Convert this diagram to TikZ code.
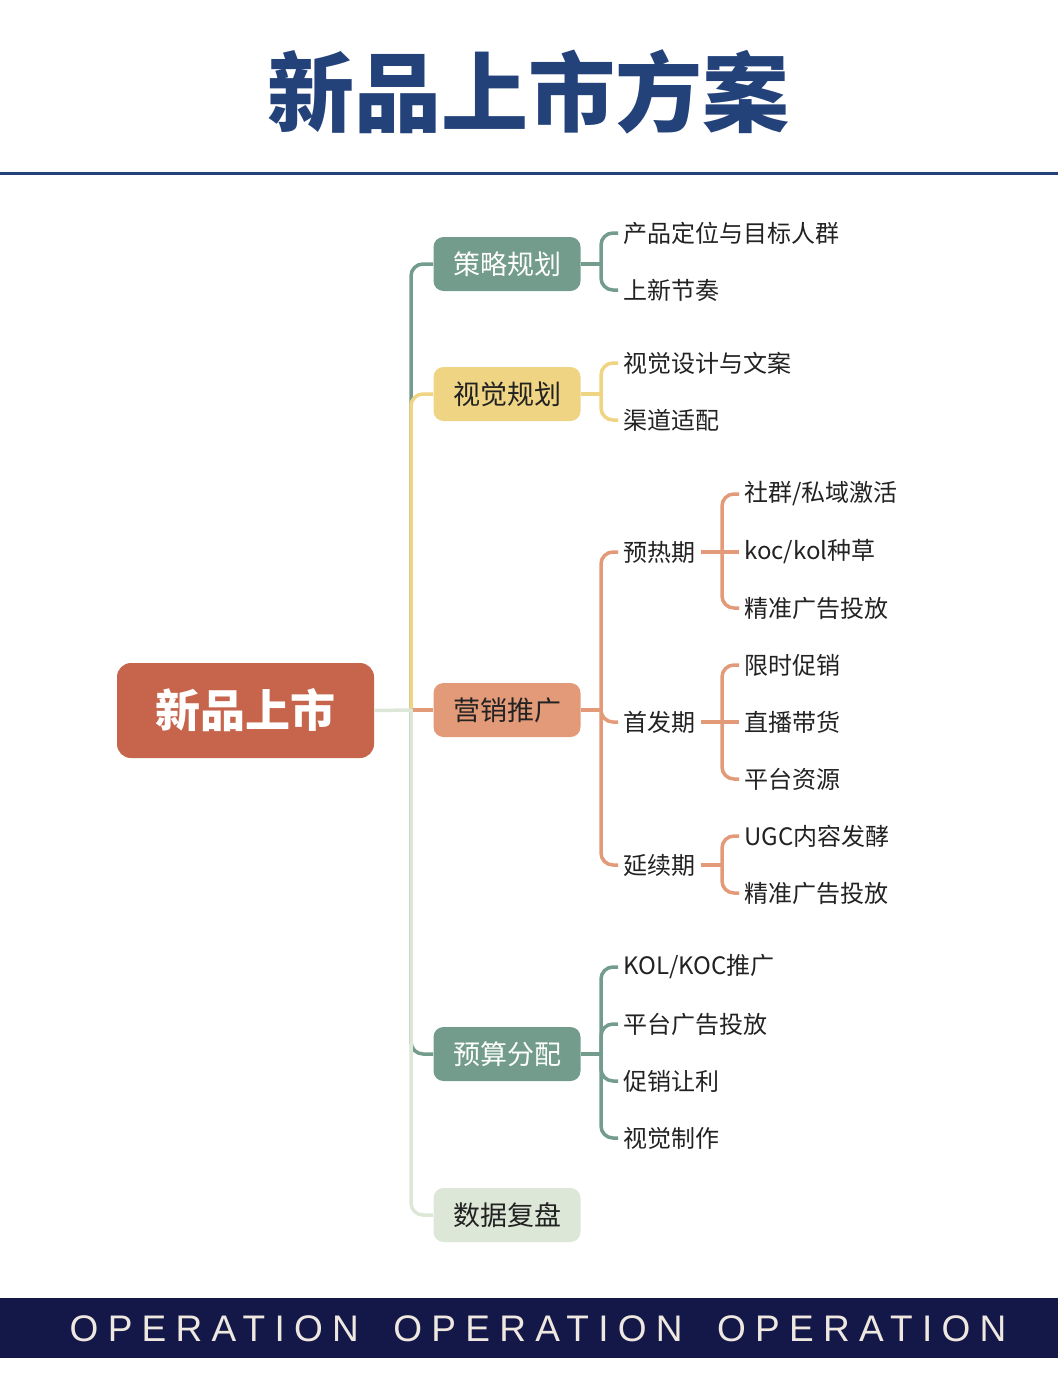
\documentclass[tikz,border=0pt]{standalone}
\usepackage{fontspec}
\setmainfont{Noto Sans CJK SC}
\newfontfamily\bandfont[LetterSpace=25]{Liberation Sans}

\definecolor{titleblue}{RGB}{36,66,122}
\definecolor{sage}{RGB}{115,156,140}
\definecolor{mustard}{RGB}{239,212,131}
\definecolor{salmon}{RGB}{227,154,120}
\definecolor{mint}{RGB}{221,231,215}
\definecolor{brick}{RGB}{198,101,76}
\definecolor{navyband}{RGB}{20,24,72}
\definecolor{bandtext}{RGB}{238,232,224}
\definecolor{inktext}{RGB}{34,34,34}

\tikzset{every picture/.style={line width=0.75pt}}
\tikzset{
	topic/.style={rounded corners=10pt, minimum width=147pt, minimum height=54pt, inner sep=0pt, text=inktext, font=\fontsize{27}{27}\selectfont},
	leaf/.style={anchor=west, inner xsep=5pt, inner ysep=2pt, text=inktext, font=\fontsize{24}{24}\selectfont},
	link/.style={line width=3.5pt, rounded corners=12pt},
}

\begin{document}
\begin{tikzpicture}[x=1pt,y=-1pt]
	\useasboundingbox (0,0) rectangle (1058,1375);

	% Title
	\node[text=titleblue, font=\fontsize{87}{87}\selectfont\bfseries] (title) at (528,92) {新品上市方案};
	%Straight Lines
	\draw[titleblue, line width=3pt] (0,174) -- (1058,174);

	%Shape: Rounded Rect
	\node[fill=brick, rounded corners=14pt, minimum width=257pt, minimum height=95pt, text=white, font=\fontsize{45}{45}\selectfont\bfseries] (root) at (245.5,710.5) {新品上市};

	% Topics
	\node[topic, fill=sage, text=white] (plan) at (507,264) {策略规划};
	\node[topic, fill=mustard] (visual) at (507,394) {视觉规划};
	\node[topic, fill=salmon] (promo) at (507,710) {营销推广};
	\node[topic, fill=sage, text=white] (budget) at (507,1054) {预算分配};
	\node[topic, fill=mint] (review) at (507,1215) {数据复盘};

	%Trunk
	\coordinate (trunk) at (411,710);
	\draw[link, sage] (trunk) |- (plan.west);
	\draw[link, mustard] (trunk) |- (visual.west);
	\draw[link, salmon] (trunk) -- (promo.west);
	\draw[link, sage] (trunk) |- (budget.west);
	\draw[link, mint] (trunk) |- (review.west);
	\draw[link, mint] (root.east) -- ([xshift=1.75pt]trunk);

	% 策略规划
	\coordinate (planJ) at (601,264);
	\node[leaf] (plan1) at (618,233) {产品定位与目标人群};
	\node[leaf] (plan2) at (618,290) {上新节奏};
	\draw[link, sage] (plan.east) -- (planJ);
	\draw[link, sage] (planJ) |- (plan1.west);
	\draw[link, sage] (planJ) |- (plan2.west);

	% 视觉规划
	\coordinate (visualJ) at (601,394);
	\node[leaf] (visual1) at (618,363) {视觉设计与文案};
	\node[leaf] (visual2) at (618,420) {渠道适配};
	\draw[link, mustard] (visual.east) -- (visualJ);
	\draw[link, mustard] (visualJ) |- (visual1.west);
	\draw[link, mustard] (visualJ) |- (visual2.west);

	% 营销推广
	\coordinate (promoJ) at (601,710);
	\node[leaf] (warm) at (618,552) {预热期};
	\node[leaf] (launch) at (618,722) {首发期};
	\node[leaf] (sustain) at (618,865) {延续期};
	\draw[link, salmon] (promo.east) -- (promoJ);
	\draw[link, salmon] (promoJ) |- (warm.west);
	\draw[link, salmon] (promoJ) |- (launch.west);
	\draw[link, salmon] (promoJ) |- (sustain.west);

	% 预热期
	\coordinate (warmJ) at (722,552);
	\node[leaf] (warm1) at (739,494) {社群/私域激活};
	\node[leaf] (warm2) at (739,552) {koc/kol种草};
	\node[leaf] (warm3) at (739,608) {精准广告投放};
	\draw[link, salmon] (warm.east) -- (warm2.west);
	\draw[link, salmon] (warmJ) |- (warm1.west);
	\draw[link, salmon] (warmJ) |- (warm3.west);

	% 首发期
	\coordinate (launchJ) at (722,722);
	\node[leaf] (launch1) at (739,665) {限时促销};
	\node[leaf] (launch2) at (739,722) {直播带货};
	\node[leaf] (launch3) at (739,779) {平台资源};
	\draw[link, salmon] (launch.east) -- (launch2.west);
	\draw[link, salmon] (launchJ) |- (launch1.west);
	\draw[link, salmon] (launchJ) |- (launch3.west);

	% 延续期
	\coordinate (sustainJ) at (722,865);
	\node[leaf] (sustain1) at (739,836) {UGC内容发酵};
	\node[leaf] (sustain2) at (739,893) {精准广告投放};
	\draw[link, salmon] (sustain.east) -- (sustainJ);
	\draw[link, salmon] (sustainJ) |- (sustain1.west);
	\draw[link, salmon] (sustainJ) |- (sustain2.west);

	% 预算分配
	\coordinate (budgetJ) at (601,1054);
	\node[leaf] (budget1) at (618,967) {KOL/KOC推广};
	\node[leaf] (budget2) at (618,1024) {平台广告投放};
	\node[leaf] (budget3) at (618,1081) {促销让利};
	\node[leaf] (budget4) at (618,1138) {视觉制作};
	\draw[link, sage] (budget.east) -- (budgetJ);
	\foreach \k in {1,...,4}
		\draw[link, sage] (budgetJ) |- (budget\k.west);

	%Shape: Band
	\fill[navyband] (0,1298) rectangle (1058,1358);
	% Text Node
	\node[text=bandtext, font=\bandfont\fontsize{37}{37}\selectfont] (band) at (538,1329) {OPERATION\hspace{15pt} OPERATION\hspace{15pt} OPERATION};

\end{tikzpicture}
\end{document}
